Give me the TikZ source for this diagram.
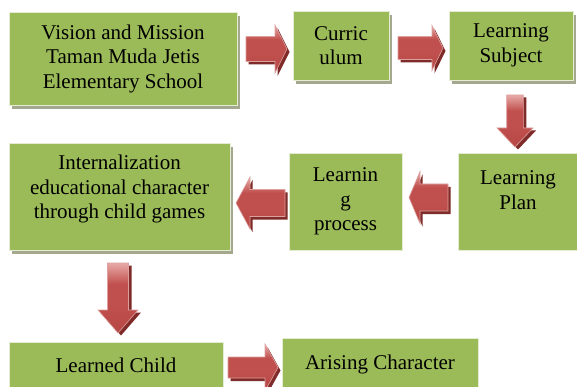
\documentclass[tikz,border=0pt]{standalone}
\usepackage{fontspec}
\newfontfamily\boxfont{Liberation Serif}
\usetikzlibrary{calc,shadows}

\definecolor{boxgreen}{HTML}{9BBB59}
\definecolor{boxline}{HTML}{E4ECD4}
\definecolor{boxshade}{HTML}{A3A88E}
\definecolor{arrowred}{HTML}{C0504D}
\definecolor{arrowlow}{HTML}{B64744}
\definecolor{arrowlight}{HTML}{E8AAA8}
\definecolor{arrowedge}{HTML}{DDA09E}
\definecolor{arrowdark}{HTML}{7F2B29}

% red fill, lighter along the top edge
\pgfdeclareverticalshading{redblock}{100bp}{%
  color(0bp)=(arrowlow); color(25bp)=(arrowlow); color(45bp)=(arrowred);
  color(60bp)=(arrowred); color(75bp)=(arrowlight); color(100bp)=(arrowlight)}

% Horizontal block arrow: #1 tail coordinate, #2 head-base offset,
% #3 tip offset (negative offsets point left), #4 shaft half width, #5 head half width
\newcommand\hblock[5]{%
  \fill[arrowdark] ($(#1)+(2.5,-#4+3)$) -- ($(#1)+(#2+2.5,-#4+3)$) -- ($(#1)+(#2+2.5,-#5+3)$)
    -- ($(#1)+(#3+2.5,3)$) -- ($(#1)+(#2+2.5,#5+3)$) -- ($(#1)+(#2+2.5,#4+3)$)
    -- ($(#1)+(2.5,#4+3)$) -- cycle;
  \path[blockarrow] ($(#1)+(0,-#4)$) -- ($(#1)+(#2,-#4)$) -- ($(#1)+(#2,-#5)$)
    -- ($(#1)+(#3,0)$) -- ($(#1)+(#2,#5)$) -- ($(#1)+(#2,#4)$)
    -- ($(#1)+(0,#4)$) -- cycle;}

% Vertical block arrow (pointing down): same arguments along y
\newcommand\vblock[5]{%
  \fill[arrowdark] ($(#1)+(-#4+3,2.5)$) -- ($(#1)+(-#4+3,#2+2.5)$) -- ($(#1)+(-#5+3,#2+2.5)$)
    -- ($(#1)+(3,#3+2.5)$) -- ($(#1)+(#5+3,#2+2.5)$) -- ($(#1)+(#4+3,#2+2.5)$)
    -- ($(#1)+(#4+3,2.5)$) -- cycle;
  \path[blockarrow] ($(#1)+(-#4,0)$) -- ($(#1)+(-#4,#2)$) -- ($(#1)+(-#5,#2)$)
    -- ($(#1)+(0,#3)$) -- ($(#1)+(#5,#2)$) -- ($(#1)+(#4,#2)$)
    -- ($(#1)+(#4,0)$) -- cycle;}

\begin{document}
\begin{tikzpicture}[x=1pt,y=-1pt,
  box/.style={draw=boxline, line width=0.8pt, fill=boxgreen, inner sep=0pt,
    align=center, font=\boxfont\fontsize{21}{24.5}\selectfont},
  shade box/.style={drop shadow={shadow xshift=3pt, shadow yshift=-4pt,
    fill=boxshade, opacity=1}},
  label text/.style={inner sep=0pt, align=center, font=\boxfont\fontsize{21}{24.5}\selectfont},
  blockarrow/.style={draw=arrowedge, line width=0.6pt, shading=redblock}]

\clip (0,0) rectangle (577,387);
\fill[white] (0,0) rectangle (577,387);

% top row
\node[box, shade box, minimum width=228, minimum height=93] (vision) at (123,58.5)
  {Vision and Mission\\Taman Muda Jetis\\Elementary School};
\node[box, shade box, minimum width=96, minimum height=69] (curr) at (341,45.5)
  {Curric\\ulum};
\node[box, shade box, minimum width=124, minimum height=69] (subject) at (511,45.5)
  {Learning\\Subject};

% middle row
\node[box, shade box, minimum width=221, minimum height=107] (intern) at (119.5,196.5) {};
\node[label text] (internText) at (119.5,189)
  {Internalization\\educational character\\through child games};
\node[box, minimum width=113, minimum height=97] (process) at (345.5,201.5)
  {Learnin\\g\\process};
\node[box, minimum width=120, minimum height=97] (plan) at (518,201.5) {};
\node[label text] (planText) at (518,190) {Learning\\Plan};

% bottom row
\node[box, minimum width=214, minimum height=46] (child) at (116,365)
  {Learned Child};
\node[box, minimum width=196, minimum height=52] (arise) at (380,364)
  {Arising Character};

% arrow tails
\coordinate (vision-curr) at (246,49);
\coordinate (curr-subject) at (398,48);
\coordinate (subject-plan) at (515,95);
\coordinate (plan-process) at (448,197.5);
\coordinate (process-intern) at (285,203);
\coordinate (intern-child) at (118,263);
\coordinate (child-arise) at (228,367.5);

\hblock{vision-curr}{29}{41}{12.5}{24}
\hblock{curr-subject}{34}{45}{11.5}{22.5}
\vblock{subject-plan}{33}{52}{8.3}{18}
\hblock{plan-process}{-28}{-39}{13.5}{26}
\hblock{process-intern}{-35}{-49}{13.5}{26}
\vblock{intern-child}{47}{70}{10.5}{20}
\hblock{child-arise}{37}{50}{10.5}{23.5}
\end{tikzpicture}
\end{document}
